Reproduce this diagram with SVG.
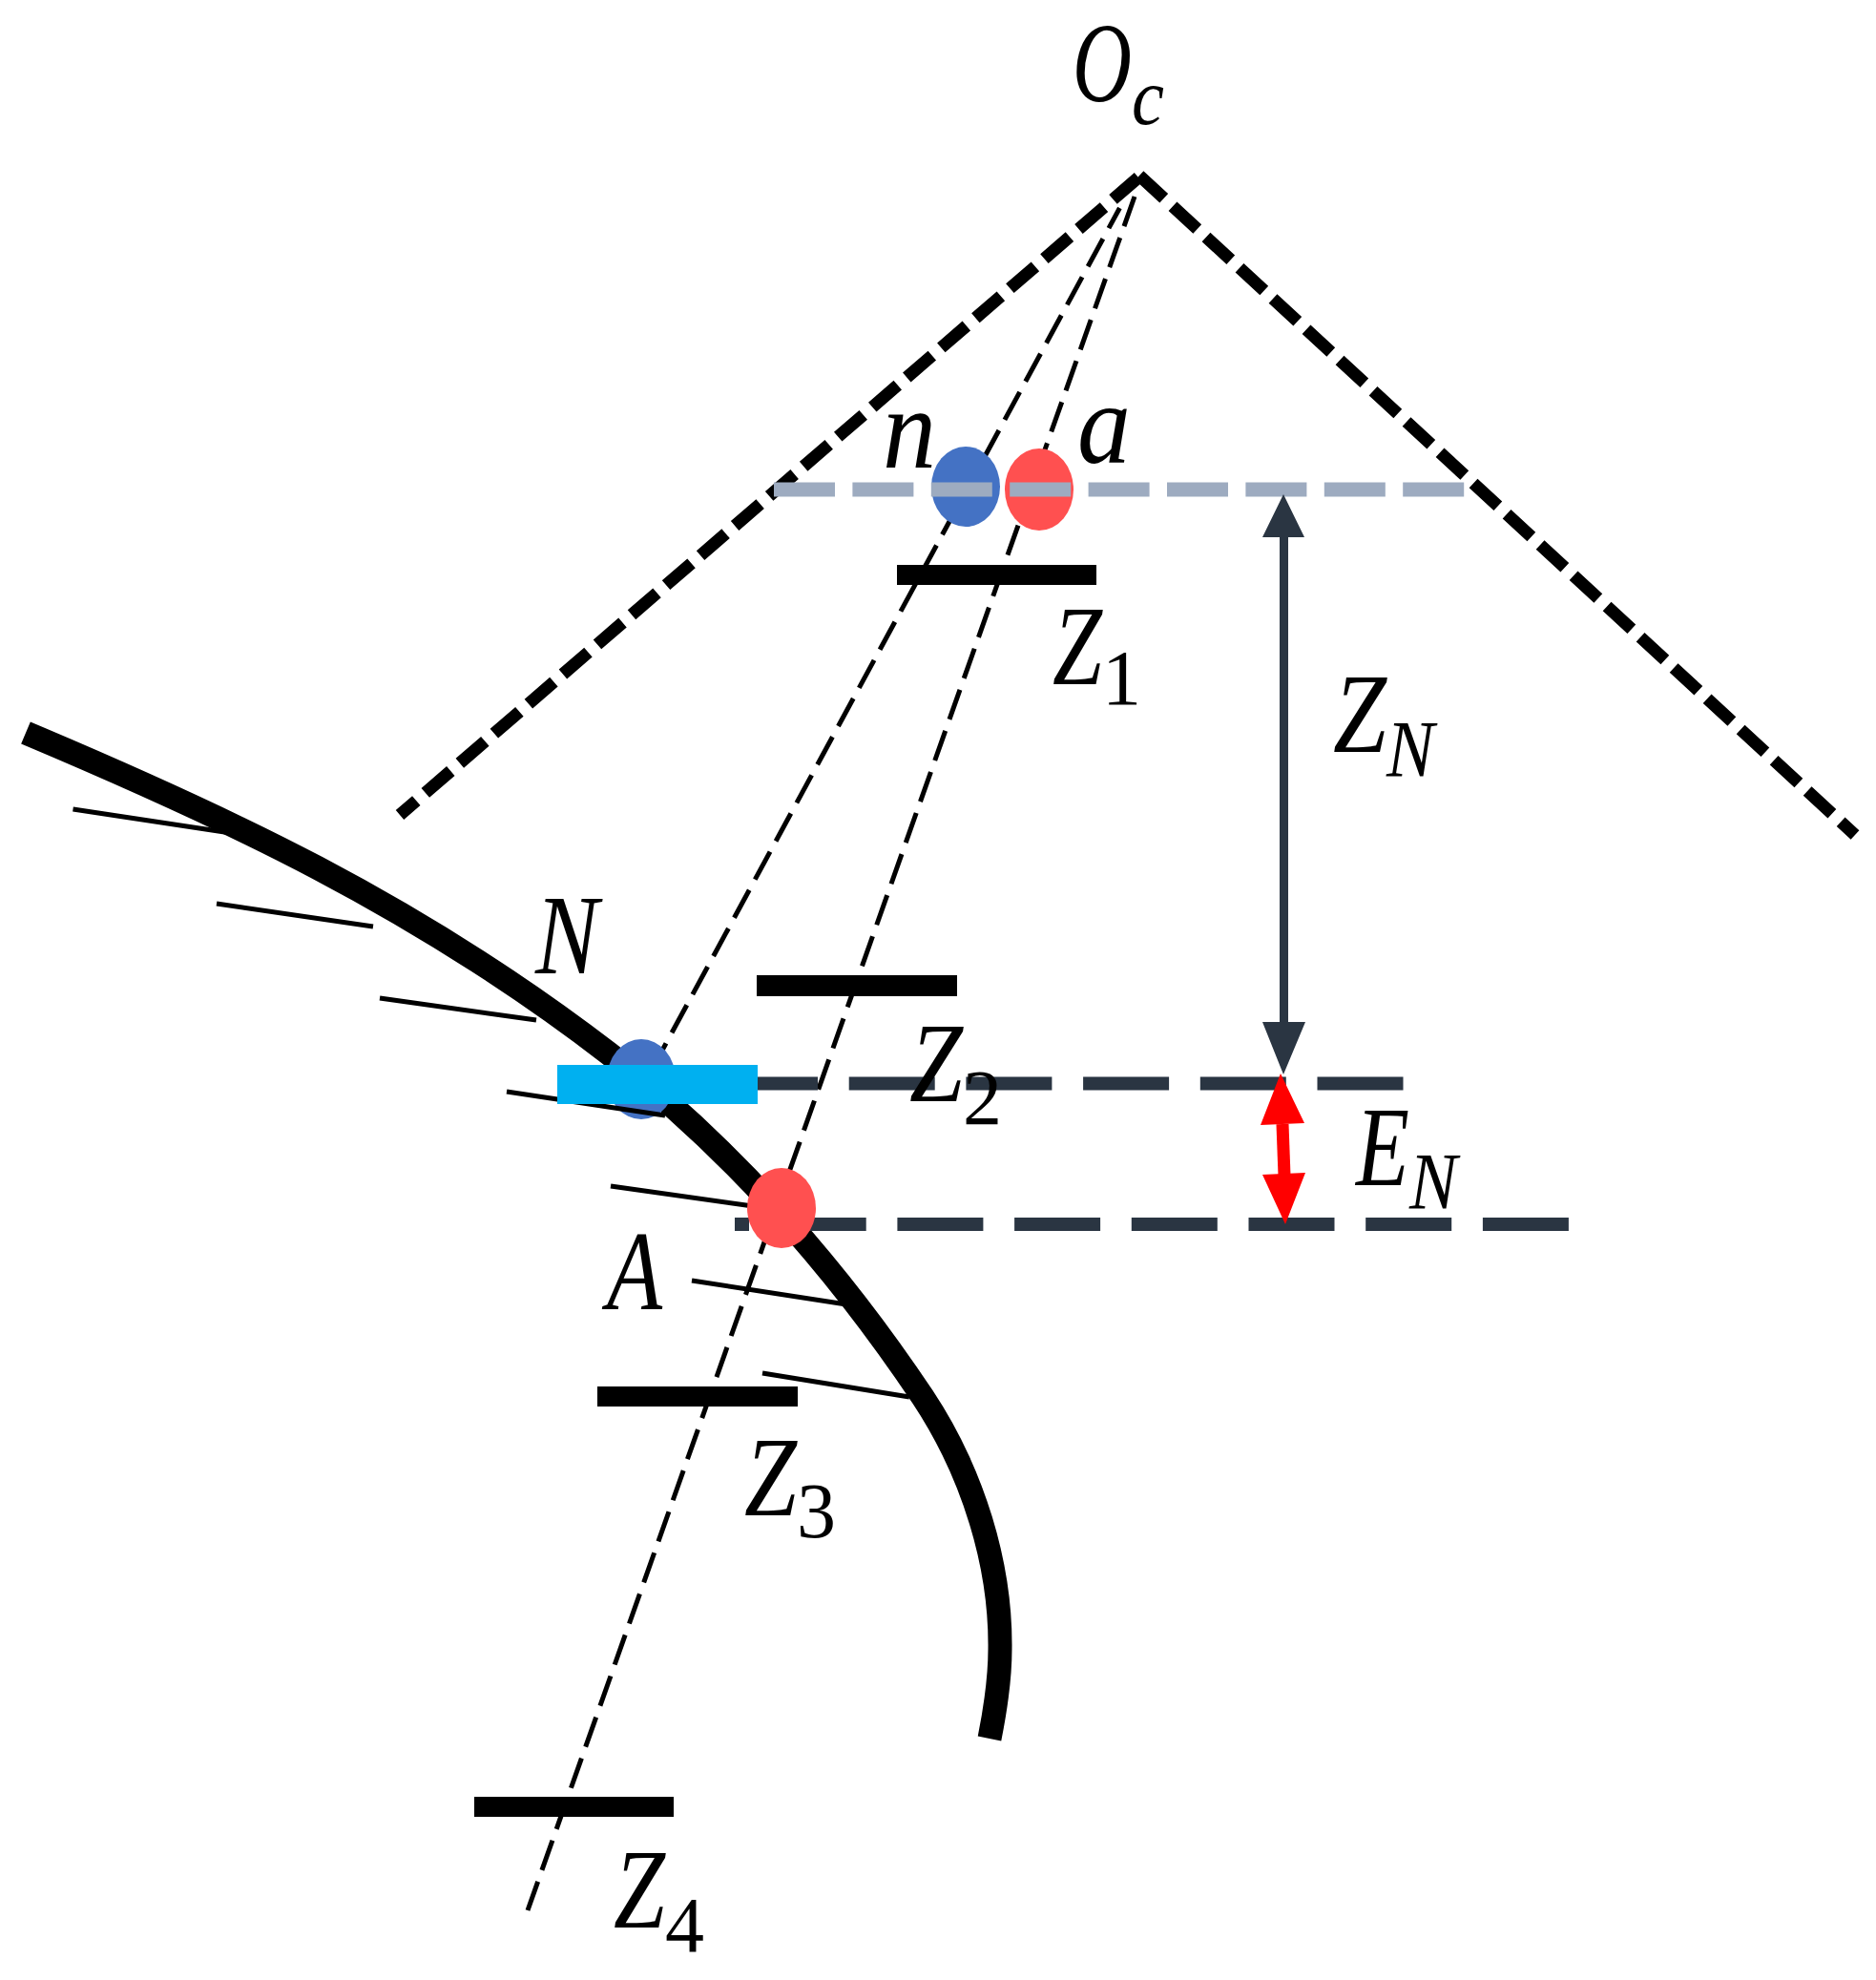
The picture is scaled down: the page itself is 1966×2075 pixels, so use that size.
<svg xmlns="http://www.w3.org/2000/svg" width="1966" height="2075" viewBox="0 0 1966 2075">
<style>
.t{font-family:"Liberation Serif","DejaVu Serif",serif;font-style:italic;font-size:118px;fill:#000}
.lc{font-family:"Liberation Serif","DejaVu Serif",serif;font-style:italic;font-size:120px;fill:#000}
.s{font-family:"Liberation Serif","DejaVu Serif",serif;font-style:italic;font-size:84px;fill:#000}
.d{font-family:"Liberation Serif","DejaVu Serif",serif;font-style:normal;font-size:82px;fill:#000}
.heavy{fill:none;stroke:#000;stroke-width:13;stroke-dasharray:35 12.6}
.thin{fill:none;stroke:#000;stroke-width:5;stroke-dasharray:33 12.69}
.tick{fill:none;stroke:#000;stroke-width:5}
.bar{fill:#000}
.dk{fill:none;stroke:#2A3542;stroke-width:14;stroke-dasharray:90 32.7}
</style>
<rect width="1966" height="2075" fill="#fff"/>
<g id="connectors">
<path class="heavy" d="M1193,186L419,854"/>
<path class="heavy" d="M1194,184L1944,875"/>
<path class="thin" stroke-dashoffset="9" d="M1173.4,218L691.7,1105"/>
<path class="thin" d="M1189,206L553,2002"/>
</g>
<g id="surface">
<path fill="none" stroke="#000" stroke-width="25" d="M27,768C231,854 434,947 638,1104C760,1198 872,1322 967,1464C1020,1544 1049,1640 1048,1728C1048,1760 1043,1792 1037,1822"/>
<path class="tick" d="M76.5,848L242,873M227,947L391,971M398,1046L562,1069M640,1243L789,1264M725,1342L887,1367M799,1439L953,1464"/>
</g>
<g id="node-n-circle"><ellipse cx="1012" cy="510" rx="36" ry="42" fill="#4472C4"/></g>
<g id="node-a-circle"><ellipse cx="1089" cy="513" rx="36" ry="43" fill="#FF5050"/></g>
<g id="image-plane"><path d="M811,513H1535" fill="none" stroke="#9DABC0" stroke-width="15" stroke-dasharray="64 18.4"/></g>
<g id="node-N-circle"><ellipse cx="672" cy="1131" rx="36" ry="42" fill="#4472C4"/></g>
<g id="level-lines">
<path class="dk" d="M767,1135.5H1471"/>
<path class="dk" stroke-dashoffset="75" d="M770,1283H1644"/>
</g>
<path class="tick" d="M531,1144L697,1169"/>
<g id="node-N-bar"><rect x="584" y="1116" width="210" height="41" fill="#00B0F0"/></g>
<g id="node-A-circle"><ellipse cx="819" cy="1266" rx="36" ry="42" fill="#FF5050"/></g>
<g id="bars">
<rect class="bar" x="940" y="592" width="209" height="21"/>
<rect class="bar" x="793" y="1022" width="210" height="22"/>
<rect class="bar" x="626" y="1453" width="210" height="21"/>
<rect class="bar" x="497" y="1883" width="209" height="21"/>
</g>
<g id="arrow-ZN">
<rect x="1341" y="560" width="9" height="512" fill="#2A3542"/>
<path fill="#2A3542" d="M1345,518L1367,563H1323ZM1323,1071H1368L1345,1126Z"/>
</g>
<g id="arrow-EN">
<path fill="none" stroke="#f00" stroke-width="13" d="M1344,1178L1346,1232"/>
<path fill="#f00" d="M1342,1125L1367,1177L1321,1179ZM1323,1231L1368,1229L1347,1283Z"/>
</g>
<g id="labels">
<text><tspan class="t" x="1124" y="106" textLength="62" lengthAdjust="spacingAndGlyphs">O</tspan><tspan class="s" x="1186" y="130" textLength="34" lengthAdjust="spacingAndGlyphs">c</tspan></text>
<text class="lc" x="925" y="490" textLength="56" lengthAdjust="spacingAndGlyphs">n</text>
<text class="lc" x="1129" y="485" textLength="56" lengthAdjust="spacingAndGlyphs">a</text>
<text><tspan class="t" x="1103" y="717" textLength="52" lengthAdjust="spacingAndGlyphs">Z</tspan><tspan class="d" x="1155" y="738">1</tspan></text>
<text><tspan class="t" x="1397" y="788" textLength="56" lengthAdjust="spacingAndGlyphs">Z</tspan><tspan class="s" x="1453" y="814" textLength="50" lengthAdjust="spacingAndGlyphs">N</tspan></text>
<text class="t" x="561" y="1020" textLength="66" lengthAdjust="spacingAndGlyphs">N</text>
<text><tspan class="t" x="953" y="1154" textLength="56" lengthAdjust="spacingAndGlyphs">Z</tspan><tspan class="d" x="1009" y="1178">2</tspan></text>
<text><tspan class="t" x="1421" y="1242" textLength="56" lengthAdjust="spacingAndGlyphs">E</tspan><tspan class="s" x="1477" y="1267" textLength="50" lengthAdjust="spacingAndGlyphs">N</tspan></text>
<text class="t" x="636" y="1372" textLength="58" lengthAdjust="spacingAndGlyphs">A</text>
<text><tspan class="t" x="780" y="1588" textLength="55" lengthAdjust="spacingAndGlyphs">Z</tspan><tspan class="d" x="835" y="1611">3</tspan></text>
<text><tspan class="t" x="643" y="2020" textLength="54" lengthAdjust="spacingAndGlyphs">Z</tspan><tspan class="d" x="697" y="2045">4</tspan></text>
</g>
</svg>
